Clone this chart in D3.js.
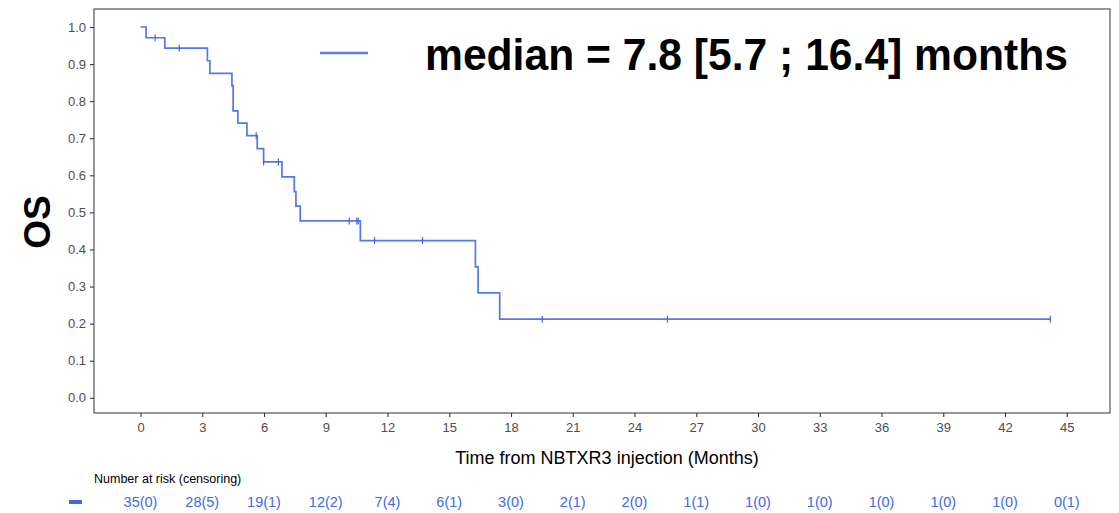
<!DOCTYPE html>
<html><head><meta charset="utf-8">
<script src="https://cdn.jsdelivr.net/npm/d3@7"></script>
<style>body{margin:0;background:#fff}svg{display:block;font-family:"Liberation Sans",Arial,sans-serif}</style>
</head><body>
<svg id="c" width="1119" height="513"></svg>
<script>
// Kaplan-Meier step data
const eventTimes = [0, 0.27, 1.18, 3.25, 3.37, 4.44, 4.50, 4.73, 5.17, 5.67, 5.98, 6.87, 7.47, 7.55, 7.76, 10.68, 16.27, 16.40, 17.45];
const survival   = [1.0, 0.971, 0.943, 0.909, 0.875, 0.842, 0.774, 0.741, 0.707, 0.672, 0.636, 0.596, 0.556, 0.517, 0.477, 0.424, 0.353, 0.283, 0.212];
const lastTime = 44.2;
const censorTimes = [0.71, 1.88, 5.62, 5.98, 6.70, 10.14, 10.51, 10.58, 11.37, 13.70, 19.52, 25.6, 44.2];
const xTicks = [0, 3, 6, 9, 12, 15, 18, 21, 24, 27, 30, 33, 36, 39, 42, 45];
const yTicks = [0, 0.1, 0.2, 0.3, 0.4, 0.5, 0.6, 0.7, 0.8, 0.9, 1.0];
const atRisk = ["35(0)", "28(5)", "19(1)", "12(2)", "7(4)", "6(1)", "3(0)", "2(1)", "2(0)", "1(1)", "1(0)", "1(0)", "1(0)", "1(0)", "1(0)", "0(1)"];
const legendText = "median = 7.8 [5.7 ; 16.4] months";

const blue = "#4169E1";
const P = {l: 94, t: 9, r: 1110, b: 413};
const svg = d3.select("#c");
const x = d3.scaleLinear().domain([-2.26, 47.1]).range([P.l, P.r]);
const y = d3.scaleLinear().domain([-0.041, 1.0485]).range([P.b, P.t]);

// axes
const xAxis = svg.append("g").attr("transform", `translate(0,${P.b})`)
  .call(d3.axisBottom(x).tickValues(xTicks).tickFormat(d3.format("d")).tickSizeOuter(0).tickSize(4).tickPadding(6));
const yAxis = svg.append("g").attr("transform", `translate(${P.l},0)`)
  .call(d3.axisLeft(y).tickValues(yTicks).tickFormat(d3.format(".1f")).tickSizeOuter(0).tickSize(4).tickPadding(4));
[xAxis, yAxis].forEach(g => {
  g.select(".domain").remove();
  g.selectAll(".tick line").attr("stroke", "#333").attr("stroke-width", 1.1);
  g.selectAll(".tick text").attr("fill", "#4d4d4d").style("font-size", "13px").style("font-family", "Liberation Sans, Arial, sans-serif");
});

// panel border
svg.append("rect").attr("x", P.l).attr("y", P.t).attr("width", P.r - P.l).attr("height", P.b - P.t)
  .attr("fill", "none").attr("stroke", "#444").attr("stroke-width", 1.1);

// KM curve
const pts = eventTimes.map((t, i) => [t, survival[i]]);
pts.push([lastTime, survival[survival.length - 1]]);
svg.append("path").datum(pts)
  .attr("d", d3.line().x(d => x(d[0])).y(d => y(d[1])).curve(d3.curveStepAfter))
  .attr("fill", "none").attr("stroke", blue).attr("stroke-width", 1.7).attr("opacity", 0.9);

// censor marks
const sAt = t => survival[d3.bisectRight(eventTimes, t) - 1];
svg.append("g").selectAll("line").data(censorTimes).join("line")
  .attr("x1", d => x(d)).attr("x2", d => x(d))
  .attr("y1", d => y(sAt(d)) - 3.5).attr("y2", d => y(sAt(d)) + 3.5)
  .attr("stroke", blue).attr("stroke-width", 1.2);

// legend
svg.append("line").attr("x1", 320).attr("x2", 368).attr("y1", 53).attr("y2", 53)
  .attr("stroke", blue).attr("stroke-width", 2.4).attr("opacity", 0.85);
svg.append("text").attr("x", 425).attr("y", 70).text(legendText)
  .attr("font-weight", "bold").attr("font-size", 44).attr("fill", "#000")
  .attr("textLength", 643).attr("lengthAdjust", "spacingAndGlyphs");

// axis titles
svg.append("text").attr("transform", "translate(50,222) rotate(-90)").attr("text-anchor", "middle")
  .attr("font-weight", "bold").attr("font-size", 37).text("OS");
svg.append("text").attr("x", 607).attr("y", 464).attr("text-anchor", "middle")
  .attr("font-size", 18).attr("fill", "#000").text("Time from NBTXR3 injection (Months)");

// risk table
svg.append("text").attr("x", 94).attr("y", 483).attr("font-size", 12.5).attr("fill", "#000").text("Number at risk (censoring)");
svg.append("line").attr("x1", 69).attr("x2", 82).attr("y1", 502).attr("y2", 502).attr("stroke", blue).attr("stroke-width", 4);
svg.append("g").selectAll("text").data(atRisk).join("text")
  .attr("x", (d, i) => x(xTicks[i])).attr("y", 507).attr("text-anchor", "middle")
  .attr("font-size", 14.5).attr("fill", blue).text(d => d);
</script>
</body></html>
